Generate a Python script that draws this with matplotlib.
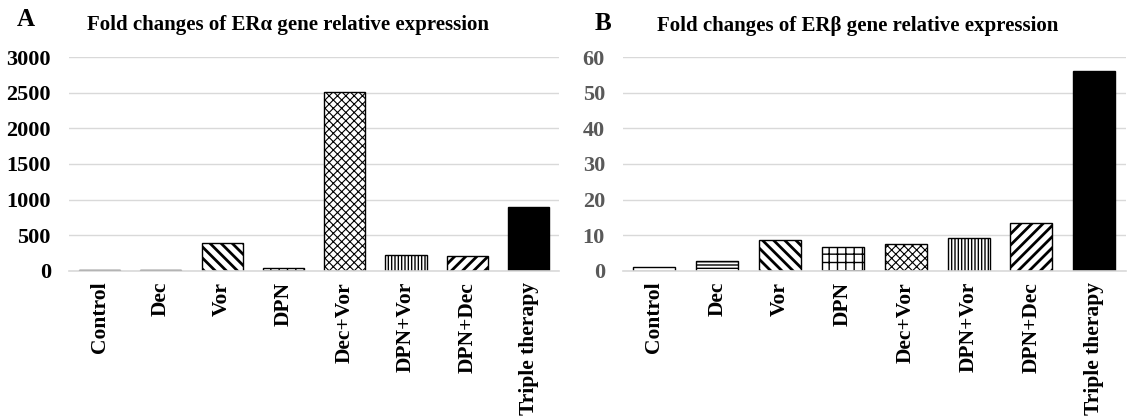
import matplotlib
matplotlib.use("Agg")
import matplotlib.pyplot as plt
import numpy as np

plt.rcParams['font.family'] = ['Liberation Serif', 'DejaVu Serif']
plt.rcParams['font.weight'] = 'bold'
plt.rcParams['hatch.linewidth'] = 1.0

categories = ['Control', 'Dec', 'Vor', 'DPN', 'Dec+Vor', 'DPN+Vor', 'DPN+Dec', 'Triple therapy']
hatches = ['', '-----', '\\\\\\', '++', 'xxxx', '|||||', '///', '']
hatch_widths = [1.0, 1.0, 2.0, 1.0, 0.8, 1.0, 2.0, 1.0]
fills = ['white'] * 7 + ['black']

# panel A: ER alpha fold changes
era_values = [10, 10, 390, 40, 2510, 220, 200, 890]
era_ticks = [0, 500, 1000, 1500, 2000, 2500, 3000]

# panel B: ER beta fold changes
erb_values = [1.1, 2.8, 8.7, 6.7, 7.5, 9.2, 13.5, 56.1]
erb_ticks = [0, 10, 20, 30, 40, 50, 60]

fig = plt.figure(figsize=(11.27, 4.18), dpi=100)
ax_a = fig.add_axes([0.0612, 0.3524, 0.435, 0.5106])
ax_b = fig.add_axes([0.5528, 0.3524, 0.446, 0.5106])


def draw_panel(ax, values, ticks, tick_color):
    x = np.arange(len(categories))
    for i, v in enumerate(values):
        with plt.rc_context({'hatch.linewidth': hatch_widths[i]}):
            bars = ax.bar(x[i], v, width=0.67, color=fills[i], edgecolor='black',
                          linewidth=1.0, hatch=hatches[i], zorder=3)
        for b in bars:
            if hasattr(b, 'set_hatch_linewidth'):
                b.set_hatch_linewidth(hatch_widths[i])
    ax.set_xlim(-0.5, len(categories) - 0.5)
    ax.set_ylim(ticks[0], ticks[-1])
    ax.set_yticks(ticks)
    ax.set_yticklabels([str(t) for t in ticks], fontsize=16, fontweight='bold',
                       color=tick_color)
    ax.set_xticks(x)
    ax.set_xticklabels(categories, rotation=90, fontsize=15.5, fontweight='bold')
    ax.tick_params(length=0)
    ax.tick_params(axis='x', pad=8)
    ax.tick_params(axis='y', pad=13)
    for s in ['top', 'right', 'left']:
        ax.spines[s].set_visible(False)
    ax.spines['bottom'].set_color('#d9d9d9')
    ax.spines['bottom'].set_linewidth(1.2)
    ax.spines['bottom'].set_zorder(4)
    ax.yaxis.grid(True, color='#d9d9d9', linewidth=1.0, zorder=0)
    ax.set_axisbelow(True)


draw_panel(ax_a, era_values, era_ticks, 'black')
draw_panel(ax_b, erb_values, erb_ticks, '#595959')

fig.text(288 / 1127, 1 - 25 / 418, 'Fold changes of ER\u03b1 gene relative expression',
         ha='center', va='center', fontsize=15, fontweight='bold')
fig.text(858 / 1127, 1 - 26 / 418, 'Fold changes of ER\u03b2 gene relative expression',
         ha='center', va='center', fontsize=15, fontweight='bold')
fig.text(26 / 1127, 1 - 20 / 418, 'A', ha='center', va='center', fontsize=18, fontweight='bold')
fig.text(603 / 1127, 1 - 23 / 418, 'B', ha='center', va='center', fontsize=18, fontweight='bold')

fig.savefig('out.png', dpi=100)
